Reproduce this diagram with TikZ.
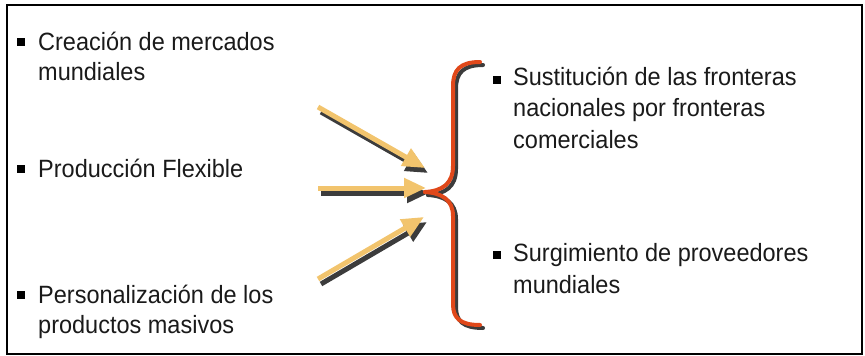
\documentclass[tikz,border=0pt]{standalone}
\usepackage{fontspec}
\setmainfont{Liberation Sans}[FakeStretch=0.94]
\usetikzlibrary{arrows.meta}
\definecolor{bracered}{HTML}{E0481A}
\definecolor{arrowyel}{HTML}{F2C46D}
\definecolor{shadowgray}{HTML}{3C3C3C}
\definecolor{txtcol}{HTML}{1A1A1A}
\begin{document}
\begin{tikzpicture}[x=1pt,y=-1pt,
  txt/.style={anchor=base west, inner sep=0pt, text=txtcol, font=\fontsize{25}{31}\selectfont},
  bullet/.style={fill=black, draw=none, minimum size=8.5pt, inner sep=0pt},
  arr/.style={line width=5pt, arrowyel, -{Triangle[length=22pt,width=19pt]}},
  arrsh/.style={line width=5pt, shadowgray, -{Triangle[length=22pt,width=19pt]}},
  brace/.style={line width=4pt, bracered, line cap=round},
  bracesh/.style={line width=4pt, shadowgray, line cap=round}]
\useasboundingbox (0,0) rectangle (865,356);
\draw[line width=1.6pt, black] (7,5) rectangle (862,354);

% left texts
\node[bullet] (b1) at (21,42) {};
\node[txt] (t1a) at (38,50) {Creación de mercados};
\node[txt] (t1b) at (38,80) {mundiales};
\node[bullet] (b2) at (21,169) {};
\node[txt] (t2) at (38,177) {Producción Flexible};
\node[bullet] (b3) at (21,295) {};
\node[txt] (t3a) at (38,303) {Personalización de los};
\node[txt] (t3b) at (38,333) {productos masivos};

% right texts
\node[bullet] (b4) at (497,80) {};
\node[txt] (t4a) at (513,85) {Sustitución de las fronteras};
\node[txt] (t4b) at (513,116) {nacionales por fronteras};
\node[txt] (t4c) at (513,148) {comerciales};
\node[bullet] (b5) at (497,255) {};
\node[txt] (t5a) at (513,261) {Surgimiento de proveedores};
\node[txt] (t5b) at (513,293) {mundiales};

% arrow points
\coordinate (a1s) at (318,107);
\coordinate (a1e) at (425,168);
\coordinate (a2s) at (318,188);
\coordinate (a2e) at (426,188);
\coordinate (a3s) at (318,279);
\coordinate (a3e) at (424,217);

% shadows
\draw[arrsh] ([shift={(3,5)}]a1s) -- ([shift={(3,5)}]a1e);
\draw[arrsh] ([shift={(3,5)}]a2s) -- ([shift={(3,5)}]a2e);
\draw[arrsh] ([shift={(3,5)}]a3s) -- ([shift={(3,5)}]a3e);
\draw[arr] (a1s) -- (a1e);
\draw[arr] (a2s) -- (a2e);
\draw[arr] (a3s) -- (a3e);

% brace
\coordinate (btop) at (480,62);
\coordinate (btip) at (425,192);
\coordinate (bbot) at (480,325);
\coordinate (stop) at (483,65);
\coordinate (stip) at (428,195);
\coordinate (sbot) at (483,328);
\draw[bracesh] (stop) .. controls (463,65) and (456,73) .. (456,89) -- (456,169)
  .. controls (456,187) and (445,194) .. (stip);
\draw[bracesh] (stip) .. controls (445,196) and (456,203) .. (456,219) -- (456,307)
  .. controls (456,321) and (463,328) .. (sbot);
\draw[brace] (btop) .. controls (460,62) and (453,70) .. (453,86) -- (453,166)
  .. controls (453,184) and (442,191) .. (btip);
\draw[brace] (btip) .. controls (442,193) and (453,200) .. (453,216) -- (453,304)
  .. controls (453,318) and (460,325) .. (bbot);
\end{tikzpicture}
\end{document}
